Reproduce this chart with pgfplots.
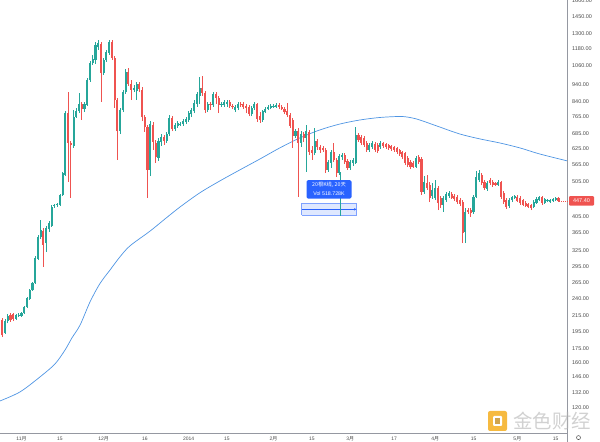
\documentclass[border=0pt]{standalone}
\usepackage{pgfplots}
\pgfplotsset{compat=1.18}
\usepackage{pgfplotstable}
\usepackage{fontspec}
\setmainfont{Liberation Sans}
\newfontfamily\cjk{Noto Sans CJK SC}
\usetikzlibrary{arrows.meta}
\definecolor{tvgreen}{HTML}{26A69A}
\definecolor{tvred}{HTML}{EF5350}
\definecolor{tvblue}{HTML}{2962FF}
\definecolor{maline}{HTML}{4F95E3}
\definecolor{axgray}{HTML}{9598A1}
\definecolor{lblgray}{HTML}{4A4A4A}
\definecolor{logoorange}{HTML}{F5B22B}

% day (0 = 1 Nov 2013), open, high, low, close
\pgfplotstableread{
d o h l c
-6 193 211 192 208
-5 208 218 205 215
-2 211 218 210 216
-1 215 219 214 216
0 215 220 214 219
1 219 229 218 228
2 228 243 226 241
3 240 255 238 254
4 254 267 252 265
5 265 315 264 311
6 309 360 307 355
7 355 396 351 372
9 342 381 323 377
10 374 394 367 389
11 381 436 379 430
12 433 439 428 436
13 436 441 430 439
14 436 468 433 465
15 465 538 462 534
16 528 793 524 783
19 635 798 627 763
20 763 809 759 793
21 793 890 783 829
23 803 840 788 829
24 824 979 819 966
25 966 1091 954 1077
26 1077 1133 1063 1105
27 1098 1231 1070 1208
28 1192 1247 1170 1223
30 1010 1112 998 1098
31 1098 1170 1084 1155
32 1148 1247 1133 1231
36 698 809 685 798
37 798 907 788 895
38 895 1036 884 1017
41 907 936 895 918
42 901 954 851 942
47 545 744 524 730
50 588 668 577 655
51 651 685 635 672
53 655 694 647 685
54 685 773 676 759
56 707 735 698 726
57 721 744 712 735
58 726 740 721 730
59 730 754 721 744
60 740 763 730 754
61 749 793 740 783
62 778 809 763 798
63 793 851 783 835
64 829 895 814 884
65 873 985 829 918
68 798 840 788 829
70 824 895 814 884
73 824 840 814 829
74 824 851 814 840
75 829 851 814 840
78 798 824 788 814
79 809 840 798 829
84 778 819 768 809
85 809 840 798 829
88 749 798 740 793
89 788 814 783 803
90 803 824 798 814
91 809 829 803 819
92 814 829 809 819
93 814 835 809 824
100 676 707 668 698
102 647 698 631 685
104 668 726 538 698
107 607 712 599 655
112 545 581 538 573
113 570 619 552 611
116 534 603 528 596
117 592 607 581 599
120 552 581 545 573
121 570 588 559 581
122 570 716 566 681
127 619 647 611 639
128 631 655 623 647
131 631 655 623 647
144 555 596 552 588
147 474 524 468 505
150 462 501 453 480
151 456 511 450 486
154 436 462 417 456
155 450 474 444 468
156 462 477 456 471
162 367 428 342 417
165 417 465 412 459
166 459 541 456 521
167 511 545 505 534
170 483 508 477 501
174 495 511 492 505
178 433 456 428 450
179 450 462 444 459
180 456 465 453 462
187 430 450 428 444
188 441 459 439 453
189 450 462 447 459
191 441 456 439 453
192 447 453 444 450
193 444 453 441 450
194 447 456 444 453
195 450 459 447 456
}\greentab

\pgfplotstableread{
d o h l c
-7 210 212 188 190
-4 216 219 207 210
-3 218 219 208 211
8 369 377 294 338
17 783 895 505 647
18 647 655 456 639
22 829 840 749 803
29 1215 1231 840 1010
33 1231 1247 1098 1112
34 1112 1126 809 851
35 851 862 581 698
39 1017 1043 930 942
40 942 966 851 907
43 942 954 895 913
44 907 924 744 763
45 763 773 694 716
46 716 726 456 545
48 726 740 619 651
49 647 659 570 592
52 672 681 639 655
55 759 768 698 707
66 918 991 873 890
67 890 901 783 798
69 829 840 798 824
71 884 895 829 862
72 862 873 783 824
76 840 851 809 819
77 819 829 803 814
80 829 840 814 824
81 829 840 803 814
82 819 829 783 809
83 814 824 768 778
86 829 835 740 754
87 768 788 735 749
94 824 835 803 814
95 814 824 798 803
96 803 814 778 788
97 793 835 763 773
98 773 783 712 721
99 749 759 627 676
101 698 712 460 647
103 685 694 651 668
105 694 703 599 611
106 619 635 581 607
108 655 664 619 631
109 631 639 607 619
110 627 635 611 619
111 619 627 534 545
114 611 647 573 581
115 581 588 521 534
118 599 607 566 573
119 577 584 545 552
123 681 689 651 659
124 672 681 639 647
125 668 676 631 639
126 647 655 611 619
129 643 651 611 619
130 639 647 607 615
132 647 651 627 635
133 643 647 623 631
134 639 643 619 627
135 635 639 615 623
136 631 635 611 619
137 627 631 603 611
138 619 623 596 603
139 611 615 584 592
140 607 611 562 570
141 588 596 555 562
142 573 581 548 555
143 570 577 552 555
145 592 599 566 573
146 584 592 465 474
148 501 528 480 486
149 495 505 444 456
152 486 492 422 441
153 456 462 428 436
157 468 474 453 456
158 462 468 447 453
159 459 465 439 444
160 450 456 433 439
161 444 450 342 365
163 422 428 412 417
164 422 428 404 414
168 528 534 495 501
169 505 511 480 486
171 511 518 495 501
172 505 511 489 495
173 501 505 492 495
175 505 508 453 459
176 471 477 439 444
177 450 456 425 430
181 459 465 444 447
182 456 462 436 441
183 450 453 433 436
184 441 447 430 433
185 439 441 428 430
186 436 439 422 428
190 459 462 436 441
196 456 459 445 447.4
}\redtab

\begin{document}
\begin{tikzpicture}
\path[use as bounding box] (0,-9bp) rectangle (600bp,433bp);
\begin{axis}[
  at={(0,0)}, anchor=south west,
  scale only axis, width=567.5bp, height=433bp,
  xmin=-7.85, xmax=199.3,
  ymode=log, ymin=102, ymax=1608.5,
  axis x line*=bottom, axis y line*=right,
  axis line style={axgray, line width=0.6bp},
  major tick length=0pt, tick style={draw=none},
  xtick={0,14,30,45,61,75,92,106,120,136,151,165,181,195},
  xticklabels={{11\cjk 月},15,{12\cjk 月},16,2014,15,{2\cjk 月},15,{3\cjk 月},17,{4\cjk 月},15,{5\cjk 月},15},
  ytick={120,132,146,160,175,195,215,240,265,295,325,365,405,505,565,625,685,765,840,940,1060,1180,1300,1450,1600},
  yticklabels={120.00,132.00,146.00,160.00,175.00,195.00,215.00,240.00,265.00,295.00,325.00,365.00,405.00,505.00,565.00,625.00,685.00,765.00,840.00,940.00,1060.00,1180.00,1300.00,1450.00,1600.00},
  x tick label style={font=\fontsize{5}{6}\selectfont, text=lblgray, anchor=base, inner sep=0pt, yshift=-7.3bp},
  y tick label style={font=\fontsize{5.5}{6}\selectfont, text=lblgray, anchor=west, inner sep=0pt, xshift=4.5bp},
  candle/.style={draw=none, mark=none, error bars/.cd, y dir=plus, y explicit, error mark=none},
]
% moving average
\addplot[maline, line width=0.7bp, smooth] coordinates {
(-7.85,125.1) (-0.55,132.5) (6.75,145.8) (12.2,158.3) (15.9,173.1) (18.4,186.9)
(21.4,203) (25.0,235) (28.6,264) (32.3,288) (35.9,313) (39.6,336) (46.9,369)
(52.4,399) (57.8,430) (65.1,471) (72.4,508) (79.7,545) (87.0,584) (94.3,627)
(101.6,668) (108.9,703) (116.2,730) (123.5,749) (130.8,761) (138.2,766)
(141.8,761) (145.4,749) (152.7,716) (160.0,685) (167.3,664) (174.6,647)
(181.9,627) (189.2,603) (199.3,577)};
% wicks
\addplot[candle, error bar style={draw=tvgreen, line width=0.65bp}]
  table[x=d, y=l, y error plus expr=\thisrow{h}-\thisrow{l}] {\greentab};
\addplot[candle, error bar style={draw=tvred, line width=0.65bp}]
  table[x=d, y=l, y error plus expr=\thisrow{h}-\thisrow{l}] {\redtab};
% bodies
\addplot[candle, error bar style={draw=tvgreen, line width=2.1bp}]
  table[x=d, y=o, y error plus expr=\thisrow{c}-\thisrow{o}] {\greentab};
\addplot[candle, error bar style={draw=tvred, line width=2.1bp}]
  table[x=d, y=c, y error plus expr=\thisrow{o}-\thisrow{c}] {\redtab};
\end{axis}
% right scale line down to the bottom edge
\draw[axgray, line width=0.6bp] (567.5bp,-9bp) -- (567.5bp,433bp);
% last price line and label
\draw[tvred, line width=0.5bp, dash pattern=on 1bp off 1bp] (559bp,232.1bp) -- (567.5bp,232.1bp);
\node[fill=tvred, rounded corners=1bp, text=white, font=\fontsize{5.5}{6}\selectfont,
  inner sep=0pt, minimum width=25bp, minimum height=9.5bp] at (581.5bp,232.1bp) {447.40};
% date range measure
\fill[tvblue, opacity=0.15] (301.5bp,218bp) rectangle (356.5bp,229.5bp);
\draw[tvblue!60, line width=0.5bp] (301.5bp,229.5bp) -- (356.5bp,229.5bp);
\draw[tvblue!60, line width=0.5bp] (301.5bp,218bp) -- (356.5bp,218bp);
\draw[tvblue!60, line width=0.5bp] (301.5bp,218bp) -- (301.5bp,229.5bp);
\draw[tvblue!60, line width=0.5bp] (356.5bp,218bp) -- (356.5bp,229.5bp);
\draw[tvblue, line width=0.5bp, -{Stealth[length=2.5bp,width=2.5bp]}] (301.5bp,223.7bp) -- (356.5bp,223.7bp);
\draw[tvgreen, line width=0.5bp] (340bp,217bp) -- (340bp,261bp);
\node[fill=tvblue, rounded corners=1.5bp, inner sep=0pt, minimum width=45bp, minimum height=18.5bp] at (329bp,243.7bp) {};
\node[text=white, font=\cjk\fontsize{5.3}{6}\selectfont, inner sep=0pt] at (329bp,247.9bp) {20根K线, 20天};
\node[text=white, font=\fontsize{5.3}{6}\selectfont, inner sep=0pt] at (329bp,239.8bp) {Vol 518.728K};
% settings icon
\draw[lblgray, line width=0.5bp] (578.5bp,-4.6bp) circle (2bp);
% watermark
\fill[logoorange, rounded corners=2bp, opacity=0.9] (488bp,2bp) rectangle (507bp,22bp);
\fill[white, rounded corners=1bp] (493bp,7bp) rectangle (502bp,17bp);
\fill[logoorange!80!black, opacity=0.8] (495bp,9bp) rectangle (500bp,15bp);
\node[text=gray!60, opacity=0.6, font=\cjk\fontsize{19.5}{21}\selectfont, inner sep=0pt] at (552bp,12bp) {金色财经};
\end{tikzpicture}
\end{document}
